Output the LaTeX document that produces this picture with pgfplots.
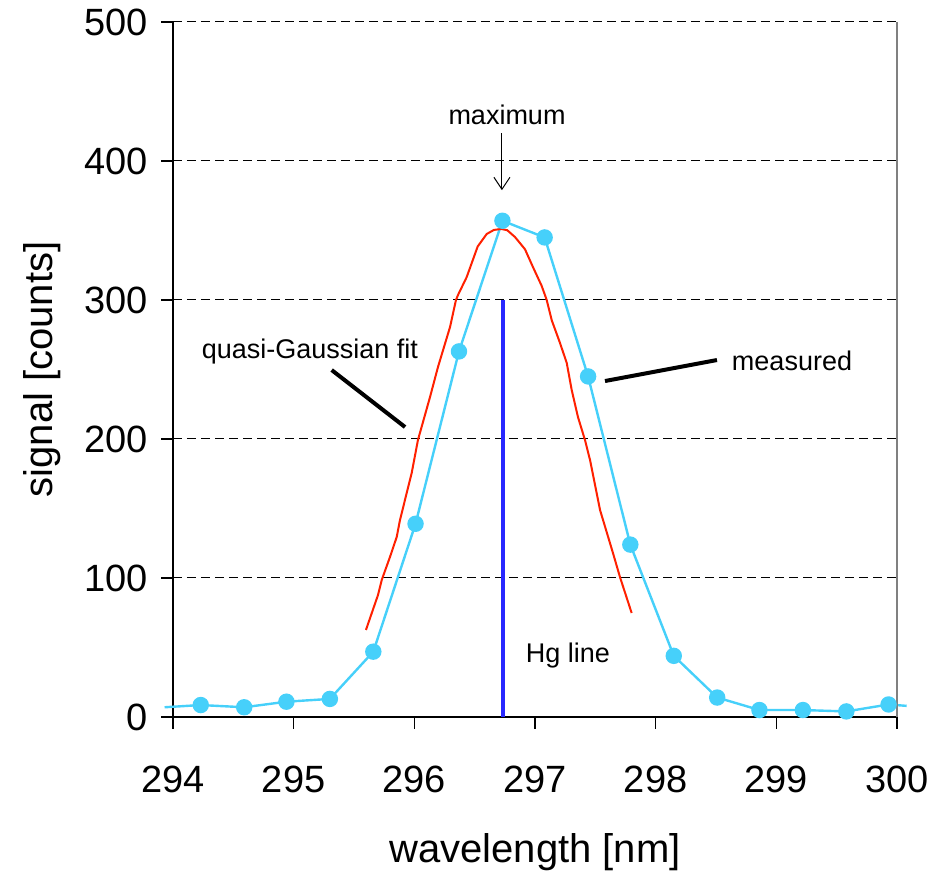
\documentclass[border=0pt]{standalone}
\usepackage{pgfplots}
\pgfplotsset{compat=1.18}
\usepackage{fontspec}
\setmainfont{Liberation Sans}
\usetikzlibrary{calc,arrows.meta}

\definecolor{meas}{RGB}{70,208,250}
\definecolor{fit}{RGB}{255,32,0}
\definecolor{hg}{RGB}{40,40,255}

\begin{document}
\begin{tikzpicture}
\begin{axis}[
scale only axis,
width=362pt,height=347.5pt,
xmin=294,xmax=300,
ymin=0,ymax=500,
xtick={294,...,300},
ytick={0,100,...,500},
axis x line*=bottom,
axis y line*=left,
axis line style={line width=1pt},
tick align=outside,
major tick length=6pt,
tick style={black,line width=0.8pt},
ymajorgrids,
major grid style={black,line width=0.5pt,dash pattern=on 4.5pt off 2.5pt},
/pgf/number format/assume math mode=true,
xticklabel style={font=\fontsize{19}{22}\selectfont,/pgf/number format/1000 sep={},yshift=-15pt},
yticklabel style={font=\fontsize{19}{22}\selectfont,xshift=-3pt},
xlabel={wavelength [nm]},
ylabel={signal [counts]},
label style={font=\fontsize{20}{24}\selectfont},
xlabel style={at={(axis description cs:0.5,-0.194)},anchor=center},
ylabel style={at={(axis description cs:-0.181,0.5)},anchor=center},
clip=false
]
% measured
\addplot[meas,line width=1.2pt,mark=*,mark size=3.5pt,
mark options={fill=meas,draw=meas},mark indices={2,...,18}] coordinates {
(293.93,7)(294.23,8.6)(294.59,7)(294.94,11)(295.30,13)(295.66,47)
(296.01,139)(296.37,263)(296.73,357)(297.08,345)(297.44,245)
(297.79,124)(298.15,44)(298.51,14)(298.86,5)(299.22,5)(299.58,4)
(299.93,9)(300.08,8)
};
% quasi-Gaussian fit
\addplot[fit,line width=1pt,mark=none] coordinates {
(295.599,62.6)(295.699,87.8)(295.730,98.6)(295.798,115.1)(295.854,129.5)
(295.881,141.7)(295.978,175.5)(296.030,199.3)(296.130,230.2)(296.196,251.8)
(296.296,280.6)(296.345,300)(296.362,303.6)(296.434,316.5)(296.525,338.5)
(296.600,347.5)(296.660,350.4)(296.720,351.1)(296.770,350.2)(296.834,345.3)
(296.917,336.5)(296.983,323.7)(297.055,310.2)(297.097,300)(297.138,285.6)
(297.207,269.1)(297.263,254.7)(297.304,235.3)(297.356,215.8)(297.414,199.3)
(297.456,184.9)(297.539,148.9)(297.646,118.0)(297.704,100.7)(297.801,74.8)
};
% Hg line
\addplot[hg,line width=2pt,mark=none] coordinates {(296.735,0)(296.735,300)};

\draw[gray,line width=0.6pt] (rel axis cs:1,0) -- (rel axis cs:1,1);
\draw[black,line width=2pt] (axis cs:295.315,249.6) -- (axis cs:295.923,208.6);
\draw[black,line width=2pt] (axis cs:297.580,241.7) -- (axis cs:298.508,256.8);
\draw[black,line width=0.5pt,-{Straight Barb[length=6pt,width=8pt]}] (axis cs:296.726,420) -- (axis cs:296.726,379);
\node[font=\fontsize{13.5}{16}\selectfont] at (axis cs:296.768,433) {maximum};
\node[font=\fontsize{13.5}{16}\selectfont] at (axis cs:295.135,262.6) {quasi-Gaussian fit};
\node[font=\fontsize{13.5}{16}\selectfont] at (axis cs:299.13,256) {measured};
\node[font=\fontsize{13.5}{16}\selectfont] at (axis cs:297.273,43.9) {Hg line};

\coordinate (ll) at (rel axis cs:0,0);
\coordinate (ur) at (rel axis cs:1,1);
\end{axis}
\pgfresetboundingbox
\path[use as bounding box] ($(ll)+(-86.5pt,-78.5pt)$) rectangle ($(ur)+(24pt,11pt)$);
\end{tikzpicture}
\end{document}
